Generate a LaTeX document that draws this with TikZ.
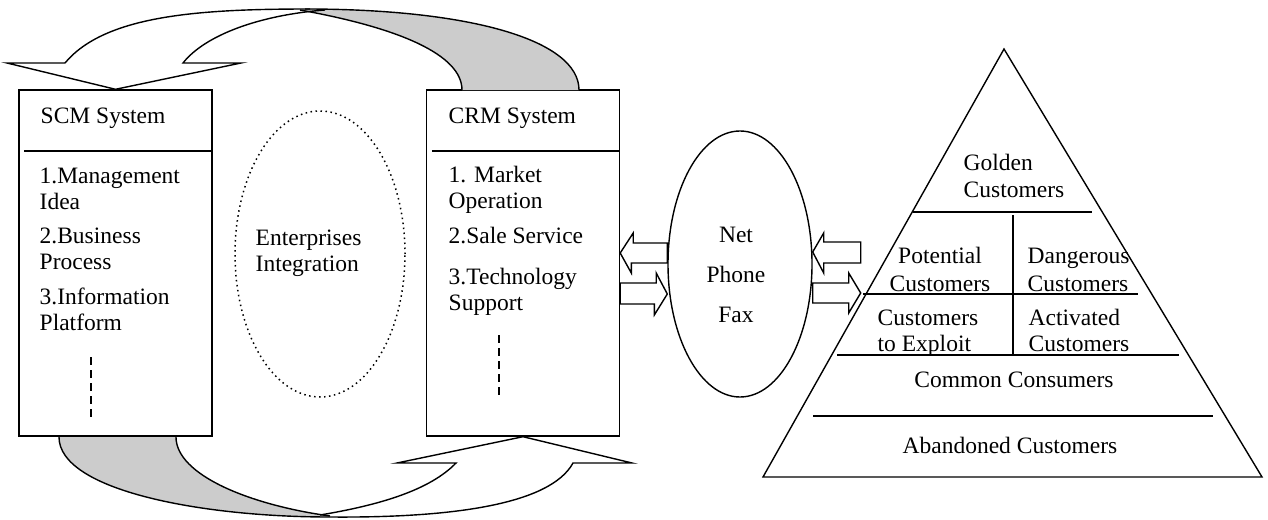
\documentclass[tikz,border=0pt]{standalone}
\usepackage{fontspec}
\setmainfont{Liberation Serif}
\usetikzlibrary{calc,positioning,shapes.geometric}
\definecolor{BandGray}{HTML}{CCCCCC}

\begin{document}
\begin{tikzpicture}[x=1pt,y=-1pt,line width=1.4pt,
  every node/.style={inner sep=0pt,font=\fontsize{23.5}{26}\selectfont},
  sysbox/.style={draw,minimum width=193pt,minimum height=346pt},
  lbl/.style={anchor=base west,align=left},
  blockarrow/.style={draw,fill=white,line join=miter},
  dotring/.style={draw,ellipse,line width=1.5pt,dash pattern=on 1.5pt off 3.5pt}]
  \useasboundingbox (0,0) rectangle (1268,519);

  % the two systems (multi-line labels sit on their last baseline)
  \node[sysbox] (scm) at (115.5,263) {};
  \node[sysbox] (crm) at (523,263) {};
  \node[lbl] (scmtitle) at (40,123) {SCM System};
  \node[lbl] (crmtitle) at (448,123) {CRM System};
  \draw ($(scm.west |- 0,151)+(6,0)$) -- (scm.east |- 0,151);
  \draw ($(crm.west |- 0,151)+(6,0)$) -- (crm.east |- 0,151);
  \node[lbl] (scm1) at (39,209) {1.Management\\Idea};
  \node[lbl] (scm2) at (39,269) {2.Business\\Process};
  \node[lbl] (scm3) at (39,330) {3.Information\\Platform};
  \node[lbl] (crm1) at (448,208) {1. Market\\Operation};
  \node[lbl] (crm2) at (448,243) {2.Sale Service};
  \node[lbl] (crm3) at (448,310) {3.Technology\\Support};
  \draw[line width=1.2pt,dash pattern=on 8pt off 5pt] (91,357) -- (91,417);
  \draw[line width=1.2pt,dash pattern=on 8pt off 5pt] (499,335) -- (499,395);

  % enterprises integration
  \node[dotring,minimum width=170pt,minimum height=286pt] (integ) at (320,254) {};
  \node[lbl] (integtext) at (255,271) {Enterprises\\Integration};

  % top band: CRM -> SCM
  \fill[BandGray] (305,9) .. controls (470,9) and (579,40) .. (579,90)
    -- (462,90) .. controls (462,55) and (400,28) .. (300,10) -- cycle;
  \draw (305,9) .. controls (470,9) and (579,40) .. (579,90);
  \draw (300,10) .. controls (400,28) and (462,55) .. (462,90);
  \draw[line join=miter] (310,9) .. controls (200,9) and (105,15) .. (65,63)
    -- (7,63) -- (scm.north) -- (241,63) -- (183,63)
    .. controls (205,35) and (260,15) .. (325,10);

  % bottom band: SCM -> CRM
  \fill[BandGray] (59,437) .. controls (59,490) and (200,517) .. (330,517)
    -- (330,516) .. controls (250,505) and (176,475) .. (176,437) -- cycle;
  \draw (176,437) .. controls (176,475) and (250,505) .. (330,516);
  \draw[line join=miter] (59,437) .. controls (59,490) and (200,517) .. (330,517)
    .. controls (450,518) and (550,505) .. (573,463) -- (632,463)
    -- (crm.south) -- (397,463) -- (456,463)
    .. controls (430,490) and (380,505) .. (320,515);

  % contact channels
  \node[draw,ellipse,minimum width=144pt,minimum height=266pt] (channel) at (740,264) {};
  \node[anchor=base,align=center,font=\fontsize{23.5}{40}\selectfont] (media) at (736,322) {Net\\Phone\\Fax};
  \draw[blockarrow] (crm.east |- 0,253) -- ++(13,-20) -- ++(0,10)
    -- (channel.west |- 0,243) -- (channel.west |- 0,263) -- ++(-36,0) -- ++(0,10) -- cycle;
  \draw[blockarrow] (crm.east |- 0,283) -- ++(36,0) -- ++(0,-10)
    -- (channel.west |- 0,294) -- ++(-13,21) -- ++(0,-11) -- (crm.east |- 0,304) -- cycle;
  \draw[blockarrow] (channel.east |- 0,252) -- ++(11,-19) -- ++(0,9)
    -- ++(37,0) -- ++(0,21) -- ++(-37,0) -- ++(0,10) -- cycle;
  \draw[blockarrow] (channel.east |- 0,283) -- ++(36,0) -- ++(0,-10)
    -- ++(12,20) -- ++(-12,20) -- ++(0,-10) -- ++(-36,0) -- cycle;

  % customer pyramid
  \coordinate (apex) at (1004,49);
  \coordinate (baseL) at (763,477);
  \coordinate (baseR) at (1262,477);
  \draw[line join=miter] (apex) -- (baseR) -- (baseL) -- cycle;
  \draw (913,212) -- (1092,212);
  \draw (863,294) -- (1138,294);
  \draw (837,355) -- (1179,355);
  \draw (813,416) -- (1213,416);
  \draw (1013,215) -- (1013,355);
  \node[lbl,font=\fontsize{23.5}{27}\selectfont] (golden) at (963,197) {Golden\\Customers};
  \node[anchor=base,align=center,font=\fontsize{23.5}{28}\selectfont] (potential) at (940,291) {Potential\\Customers};
  \node[lbl,font=\fontsize{23.5}{28}\selectfont] (dangerous) at (1027,291) {Dangerous\\Customers};
  \node[lbl] (exploit) at (877,351) {Customers\\to Exploit};
  \node[lbl] (activated) at (1028,351) {Activated\\Customers};
  \node[anchor=base] (common) at (1014,387) {Common Consumers};
  \node[anchor=base] (abandoned) at (1010,453) {Abandoned Customers};
\end{tikzpicture}
\end{document}
